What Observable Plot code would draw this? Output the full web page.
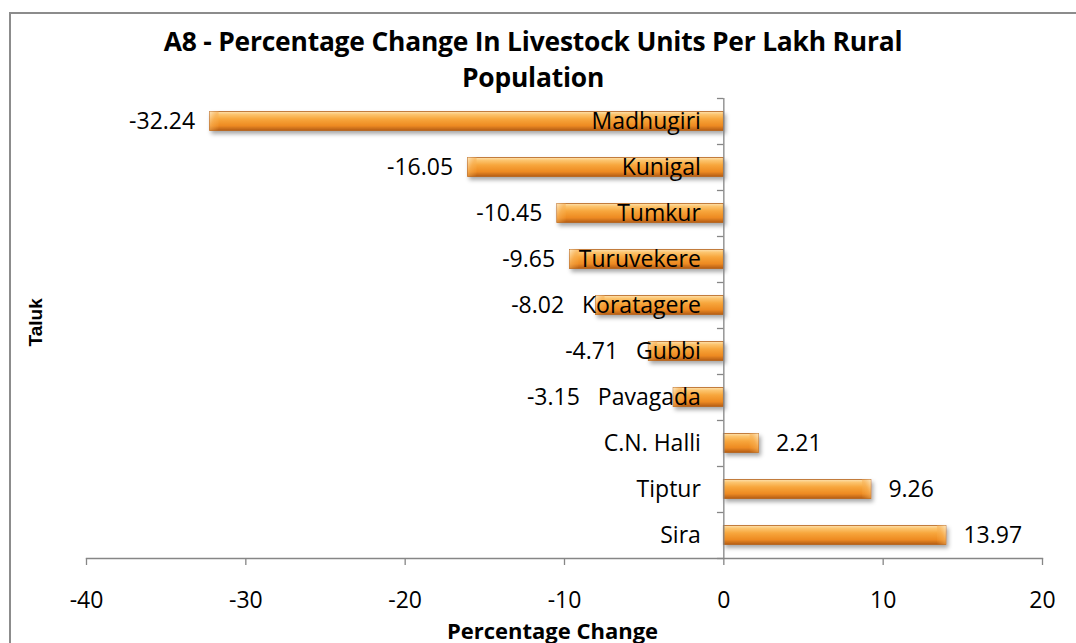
<!DOCTYPE html>
<html>
<head>
<meta charset="utf-8">
<script src="https://cdn.jsdelivr.net/npm/d3@7"></script>
<script src="https://cdn.jsdelivr.net/npm/@observablehq/plot@0.6"></script>
<style>
  html, body { margin: 0; padding: 0; background: #fff; }
  #wrap { position: relative; width: 1076px; height: 643px; overflow: hidden; }
  #border { position: absolute; left: 9px; top: 12px; width: 1200px; height: 800px; border: 2px solid #8c8c8c; box-sizing: border-box; pointer-events: none; }
  #title { position: relative; height: 95px; margin: 0; padding-top: 23px; box-sizing: border-box;
           font-family: "Open Sans", sans-serif; font-weight: bold; font-size: 26.4px; line-height: 36px;
           text-align: center; width: 1066px; color: #000; letter-spacing: -0.2px; }
  #chart { position: relative; }
</style>
</head>
<body>
<div id="wrap">
  <div id="border"></div>
  <div id="title">A8 - Percentage Change In Livestock Units Per Lakh Rural<br>Population</div>
  <div id="chart"></div>
</div>
<script>
const categories = ["Madhugiri","Kunigal","Tumkur","Turuvekere","Koratagere","Gubbi","Pavagada","C.N. Halli","Tiptur","Sira"];
const values = [-32.24,-16.05,-10.45,-9.65,-8.02,-4.71,-3.15,2.21,9.26,13.97];
const xTicks = [-40,-30,-20,-10,0,10,20];
const xLabel = "Percentage Change";
const yLabel = "Taluk";

const data = categories.map((c, i) => ({taluk: c, value: values[i]}));
const neg = data.filter(d => d.value < 0);
const pos = data.filter(d => d.value >= 0);
const font = "'Open Sans', sans-serif";
const fs = 23;

// measure category label widths so negative value labels avoid them
const ctx = document.createElement("canvas").getContext("2d");
ctx.font = `${fs}px 'Open Sans'`;
const textW = s => ctx.measureText(s).width;
const W = 1076, mL = 86, mR = 34;
const k = (W - mL - mR) / (xTicks[xTicks.length - 1] - xTicks[0]); // px per unit
const negLabelX = d => Math.min(d.value - 15 / k, -(23 + textW(d.taluk) + 18) / k);

const chart = Plot.plot({
  width: W,
  height: 548,
  marginTop: 3,
  marginBottom: 85,
  marginLeft: mL,
  marginRight: mR,
  style: {fontFamily: font, fontSize: fs + "px", color: "#000", background: "transparent"},
  x: {domain: [xTicks[0], xTicks[xTicks.length - 1]], ticks: xTicks, tickFormat: d => String(d), label: null},
  y: {domain: categories, padding: 0, axis: null},
  marks: [
    Plot.barX(data, {x1: 0, x2: "value", y: "taluk", insetTop: 13.5, insetBottom: 13.5,
      fill: "url(#barGrad)", stroke: "#b5601a", strokeWidth: 0.8}),
    // bevel end caps
    Plot.barX(neg, {x1: "value", x2: "value", y: "taluk", insetTop: 13.5, insetBottom: 13.5, insetRight: -9,
      fill: "url(#capGradL)", stroke: "none"}),
    Plot.barX(pos, {x1: "value", x2: "value", y: "taluk", insetTop: 13.5, insetBottom: 13.5, insetLeft: -9,
      fill: "url(#capGradR)", stroke: "none"}),
    Plot.ruleX([0], {stroke: "#868686", strokeWidth: 1.3}),
    Plot.ruleY(categories, {y: d => d, x1: -0.4, x2: 0, dy: -23, stroke: "#868686", strokeWidth: 1.3}),
    Plot.ruleY([categories[categories.length - 1]], {y: d => d, x1: -0.4, x2: 0, dy: 23, stroke: "#868686", strokeWidth: 1.3}),
    Plot.frame({anchor: "bottom", stroke: "#868686", strokeWidth: 1.3}),
    Plot.axisX({ticks: xTicks, tickFormat: d => String(d), tickSize: 7, tickPadding: 26, stroke: "#868686", strokeWidth: 1.3, fill: "#000", fontSize: fs, label: null}),
    Plot.text(data, {x: 0, y: "taluk", text: "taluk", textAnchor: "end", dx: -23, fill: "#000", fontSize: fs}),
    Plot.text(neg, {x: negLabelX, y: "taluk", text: d => d.value.toFixed(2), textAnchor: "end", fill: "#000", fontSize: fs}),
    Plot.text(pos, {x: "value", y: "taluk", text: d => d.value.toFixed(2), textAnchor: "start", dx: 17, fill: "#000", fontSize: fs}),
    Plot.text([xLabel], {frameAnchor: "bottom", text: d => d, dy: 80, dx: -12, fontWeight: "bold", fontSize: 22, fill: "#000"}),
    Plot.text([yLabel], {frameAnchor: "left", text: d => d, dx: -51, dy: 18, rotate: -90, fontWeight: "bold", fontSize: 19, fontFamily: "'Liberation Sans', Arial, sans-serif", fill: "#000"})
  ]
});

const svg = d3.select(chart);
const defs = svg.insert("defs", ":first-child");
const g = defs.append("linearGradient").attr("id", "barGrad").attr("x1", 0).attr("y1", 0).attr("x2", 0).attr("y2", 1);
[["0%", "#fde2b0"], ["15%", "#fcc56f"], ["40%", "#f7a63c"], ["75%", "#ed8a22"], ["100%", "#b35c15"]]
  .forEach(([o, c]) => g.append("stop").attr("offset", o).attr("stop-color", c));
const cl = defs.append("linearGradient").attr("id", "capGradL").attr("x1", 0).attr("y1", 0).attr("x2", 1).attr("y2", 1);
[["0%", "#fde7bf", 0.9], ["45%", "#f8b35a", 0.6], ["100%", "#f6a53c", 0]]
  .forEach(([o, c, a]) => cl.append("stop").attr("offset", o).attr("stop-color", c).attr("stop-opacity", a));
const cr = defs.append("linearGradient").attr("id", "capGradR").attr("x1", 1).attr("y1", 0).attr("x2", 0).attr("y2", 1);
[["0%", "#fde7bf", 0.9], ["45%", "#f8b35a", 0.6], ["100%", "#f6a53c", 0]]
  .forEach(([o, c, a]) => cr.append("stop").attr("offset", o).attr("stop-color", c).attr("stop-opacity", a));
const f = defs.append("filter").attr("id", "barShadow").attr("x", "-10%").attr("y", "-30%").attr("width", "130%").attr("height", "190%");
f.append("feDropShadow").attr("dx", 2).attr("dy", 3).attr("stdDeviation", 2).attr("flood-color", "#000").attr("flood-opacity", 0.35);
svg.select("g[aria-label='bar']").attr("filter", "url(#barShadow)");

document.getElementById("chart").appendChild(chart);
</script>
</body>
</html>
